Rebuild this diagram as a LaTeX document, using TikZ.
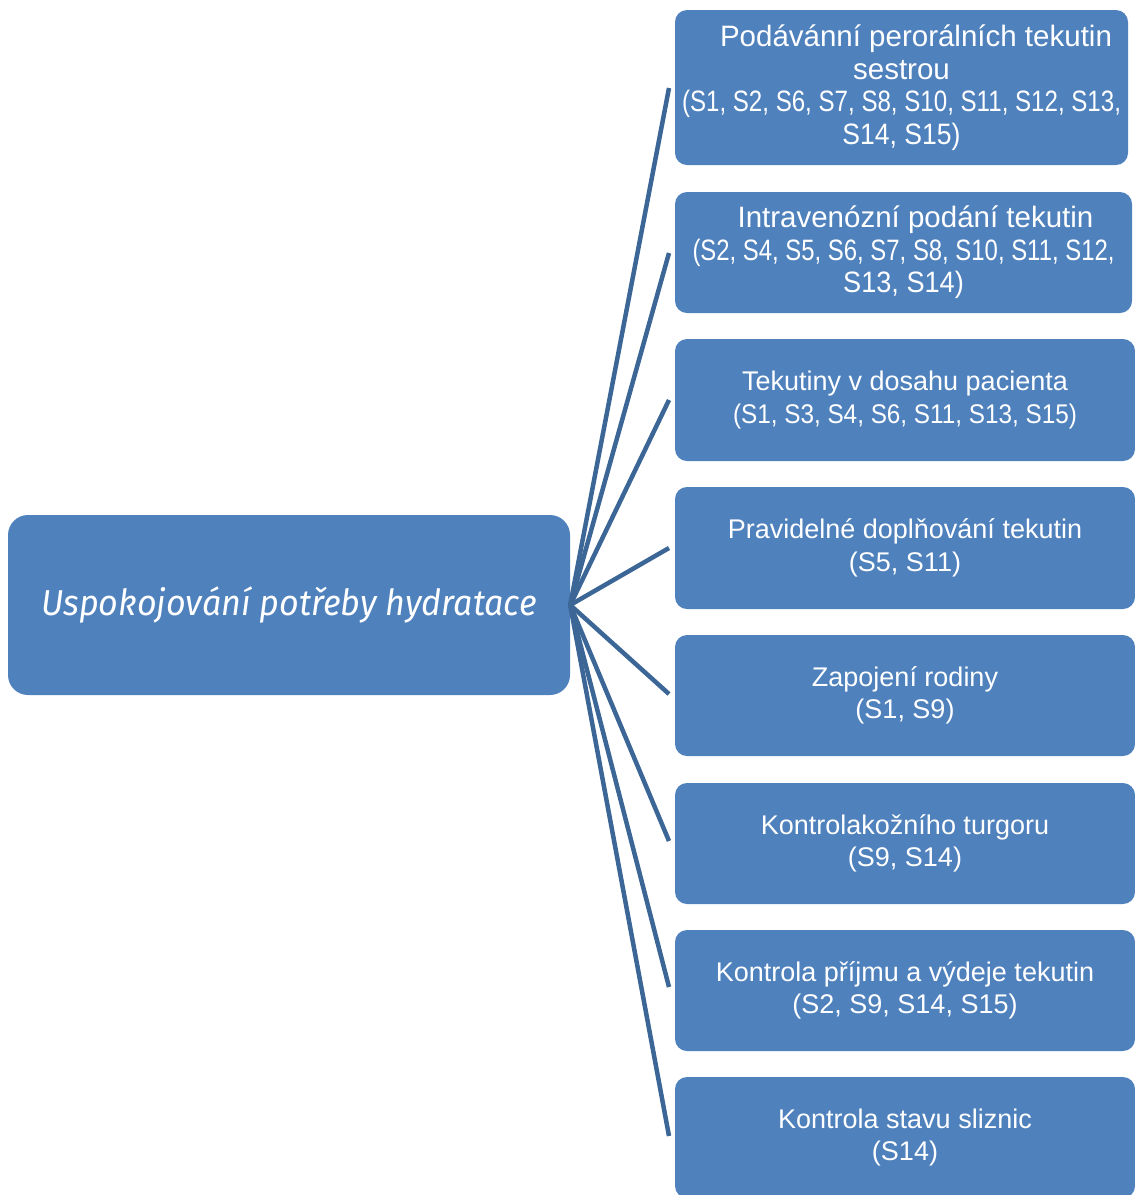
\documentclass[tikz,border=0pt]{standalone}
\usepackage{fontspec}
\setmainfont{Liberation Sans}
\newfontfamily\titlefont{Fira Sans}
\definecolor{boxblue}{HTML}{4F81BD}
\definecolor{linkblue}{HTML}{3B6696}
\newcommand{\squeeze}[2]{\scalebox{#1}[1]{#2}}
\begin{document}
\begin{tikzpicture}[x=1pt,y=-1pt,
  hubbox/.style={fill=boxblue, rounded corners=20pt, inner sep=0pt,
    minimum width=562pt, minimum height=180pt, text=white,
    font=\titlefont\itshape\fontsize{36}{40}\selectfont},
  leafbox/.style={fill=boxblue, rounded corners=12pt, inner sep=0pt,
    text=white, align=center, font=\fontsize{27}{32.5}\selectfont},
  bigtext/.style={font=\fontsize{29.5}{32.5}\selectfont},
  link/.style={draw=linkblue, line width=4.5pt}]
\useasboundingbox (0,0) rectangle (1135,1195);

% central topic
\node[hubbox] (hub) at (289,605) {\squeeze{0.946}{Uspokojování potřeby hydratace}};

% activity boxes
\node[leafbox, bigtext, minimum width=453pt, minimum height=155pt] (b1) at (901.5,87.5)
  {\hspace*{29pt}Podávánní perorálních tekutin\\sestrou\\\squeeze{0.817}{(S1, S2, S6, S7, S8, S10, S11, S12, S13,}\\\squeeze{0.9}{S14, S15)}};
\node[leafbox, bigtext, minimum width=457pt, minimum height=121pt] (b2) at (903.5,252.5)
  {\hspace*{24pt}Intravenózní podání tekutin\\\squeeze{0.81}{(S2, S4, S5, S6, S7, S8, S10, S11, S12,}\\\squeeze{0.92}{S13, S14)}};
\node[leafbox, minimum width=460pt, minimum height=122pt] (b3) at (905,400)
  {Tekutiny v dosahu pacienta\\\squeeze{0.9}{(S1, S3, S4, S6, S11, S13, S15)}};
\node[leafbox, minimum width=460pt, minimum height=122pt] (b4) at (905,548)
  {Pravidelné doplňování tekutin\\(S5, S11)};
\node[leafbox, minimum width=460pt, minimum height=121pt] (b5) at (905,695.5)
  {Zapojení rodiny\\(S1, S9)};
\node[leafbox, minimum width=460pt, minimum height=121pt] (b6) at (905,843.5)
  {Kontrolakožního turgoru\\(S9, S14)};
\node[leafbox, minimum width=460pt, minimum height=121pt] (b7) at (905,990.5)
  {Kontrola příjmu a výdeje tekutin\\(S2, S9, S14, S15)};
\node[leafbox, minimum width=460pt, minimum height=121pt] (b8) at (905,1137.5)
  {Kontrola stavu sliznic\\(S14)};

% connector ends, just short of each box
\foreach \i/\y in {1/88,2/253,3/400,4/548,5/694,6/841,7/987,8/1136}
  \coordinate (e\i) at (669,\y);

% connectors fanning out from the central topic
\foreach \i in {1,...,8}
  \draw[link] (hub.east) -- (e\i);
\end{tikzpicture}
\end{document}
